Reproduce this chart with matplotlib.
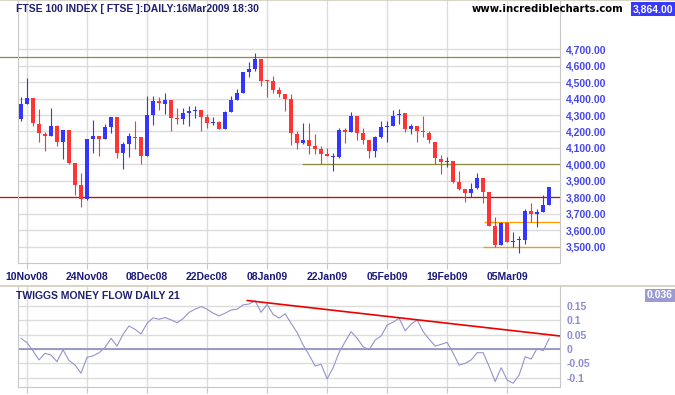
import matplotlib
matplotlib.use("Agg")
import matplotlib.pyplot as plt
from matplotlib.ticker import FixedLocator, FuncFormatter

# daily OHLC, 07Nov08 .. 16Mar09
opens = [4278, 4369, 4403, 4245, 4185, 4175, 4233, 4138, 4209, 4009,
         3876, 3789, 4155, 4173, 4155, 4229, 4288, 4072, 4124, 4169,
         4167, 4053, 4300, 4385, 4369, 4391, 4284, 4278, 4314, 4324,
         4330, 4286, 4253, 4256, 4217, 4320, 4391, 4435, 4561, 4579,
         4640, 4510, 4506, 4452, 4427, 4397, 4185, 4128, 4149, 4112,
         4094, 4064, 4048, 4047, 4209, 4197, 4294, 4193, 4149, 4084,
         4169, 4229, 4235, 4298, 4310, 4217, 4233, 4203, 4191, 4135,
         4033, 4013, 4021, 3892, 3850, 3826, 3856, 3916, 3833, 3627,
         3514, 3646, 3530, 3542, 3544, 3718, 3698, 3714, 3755]
highs = [4411, 4524, 4405, 4336, 4199, 4342, 4239, 4209, 4211, 4011,
         3949, 4155, 4270, 4175, 4245, 4290, 4290, 4138, 4191, 4265,
         4169, 4415, 4417, 4409, 4435, 4393, 4342, 4342, 4356, 4353,
         4332, 4306, 4290, 4262, 4324, 4415, 4459, 4563, 4619, 4674,
         4642, 4512, 4536, 4472, 4429, 4427, 4203, 4252, 4254, 4185,
         4112, 4098, 4068, 4223, 4219, 4318, 4296, 4223, 4151, 4173,
         4264, 4264, 4330, 4336, 4312, 4247, 4235, 4294, 4200, 4137,
         4058, 4044, 4023, 3959, 3852, 3888, 3949, 3918, 3835, 3680,
         3652, 3652, 3591, 3567, 3730, 3769, 3730, 3817, 3866]
lows = [4265, 4365, 4235, 4138, 4084, 4172, 4114, 4033, 4005, 3815,
        3740, 3787, 4072, 4053, 4153, 4193, 4040, 3975, 4045, 4094,
        4005, 4051, 4237, 4330, 4306, 4205, 4245, 4245, 4235, 4280,
        4205, 4223, 4239, 4213, 4215, 4318, 4389, 4433, 4528, 4567,
        4478, 4411, 4435, 4407, 4326, 4118, 4094, 4126, 4064, 4064,
        4003, 4050, 3963, 4041, 4128, 4195, 4149, 4124, 4041, 4047,
        4163, 4138, 4233, 4247, 4199, 4185, 4138, 4169, 4132, 4005,
        3944, 3987, 3886, 3846, 3775, 3803, 3854, 3765, 3627, 3498,
        3512, 3530, 3498, 3466, 3520, 3652, 3623, 3712, 3753]
closes = [4367, 4403, 4250, 4189, 4175, 4233, 4138, 4209, 4009, 3878,
          3789, 4155, 4173, 4155, 4225, 4288, 4072, 4124, 4173, 4162,
          4053, 4300, 4385, 4371, 4391, 4284, 4278, 4310, 4324, 4330,
          4290, 4253, 4259, 4217, 4320, 4391, 4435, 4561, 4579, 4640,
          4508, 4504, 4452, 4427, 4397, 4189, 4128, 4149, 4114, 4094,
          4066, 4053, 4052, 4209, 4197, 4294, 4193, 4149, 4084, 4169,
          4227, 4235, 4294, 4308, 4217, 4233, 4203, 4197, 4149, 4038,
          4013, 4019, 3892, 3852, 3826, 3852, 3916, 3835, 3629, 3512,
          3646, 3532, 3538, 3548, 3718, 3700, 3714, 3755, 3864]

# Twiggs money flow 21
tmf = [0.037, 0.022, -0.007, -0.038, -0.015, -0.021, -0.044, -0.003, -0.040, -0.056,
       -0.084, -0.029, -0.024, -0.013, 0.005, 0.037, 0.010, 0.051, 0.080, 0.068,
       0.052, 0.089, 0.108, 0.103, 0.109, 0.101, 0.091, 0.105, 0.127, 0.138,
       0.147, 0.138, 0.124, 0.115, 0.124, 0.135, 0.138, 0.153, 0.156, 0.167,
       0.127, 0.155, 0.120, 0.107, 0.122, 0.089, 0.057, 0.014, -0.021, -0.059,
       -0.053, -0.104, -0.065, -0.012, 0.025, 0.060, 0.037, 0.008, -0.003, 0.031,
       0.045, 0.083, 0.093, 0.107, 0.063, 0.086, 0.101, 0.060, 0.034, 0.010,
       0.016, 0.023, -0.015, -0.056, -0.050, -0.038, -0.013, -0.013, -0.061, -0.113,
       -0.065, -0.108, -0.119, -0.090, -0.027, -0.035, 0.002, -0.006, 0.036]

tick_idx = [1, 11, 21, 31, 41, 51, 61, 71, 81]
tick_labels = ["10Nov08", "24Nov08", "08Dec08", "22Dec08", "08Jan09",
               "22Jan09", "05Feb09", "19Feb09", "05Mar09"]
price_ticks = list(range(3500, 4701, 100))
tmf_ticks = [-0.1, -0.05, 0, 0.05, 0.1, 0.15]
tmf_tick_labels = ["-0.1", "-0.05", "0", "0.05", "0.1", "0.15"]

# drawn lines: (price, first bar, colour)
levels = [(4650, None, "#8c8c3c"), (3800, None, "#e00000"),
          (4000, 46.8, "#8c8c3c"), (3650, 77.2, "#ff9900"), (3500, 77.0, "#ff9900")]
trend_x = [37.7, 89.8]
trend_y = [0.168, 0.045]

FONT = "Liberation Sans"
BLUE, RED = "#3535ff", "#ff3535"
GRID = "#dcdcdc"
W, H = 675, 395
XMAX = 89.8

fig = plt.figure(figsize=(W / 100, H / 100), dpi=100)


def px_axes(left, top, right, bottom):
    return fig.add_axes([left / W, 1 - bottom / H, (right - left) / W, (bottom - top) / H])


ax = px_axes(18, 0, 560, 263)
ax2 = px_axes(18, 287, 560, 387)

# candles
n = len(closes)
xs = list(range(n))
cols = [BLUE if c >= o else RED for o, c in zip(opens, closes)]
bottoms = [min(o, c) for o, c in zip(opens, closes)]
heights = [max(abs(c - o), 5) for o, c in zip(opens, closes)]
ax.vlines(xs, lows, highs, colors=cols, lw=0.8, zorder=3)
ax.bar(xs, heights, bottom=bottoms, width=0.68, color=cols, lw=0, zorder=4)

ext = -18 / 542
for price, start, col in levels:
    if start is None:
        ax.axhline(price, xmin=ext, xmax=1, color=col, lw=0.9, clip_on=False, zorder=2)
    else:
        ax.hlines(price, start, XMAX, colors=col, lw=0.9, zorder=2)

ax.set_xlim(-0.5, XMAX)
ax.set_ylim(3403, 4997)
ax.xaxis.set_major_locator(FixedLocator(tick_idx))
ax.set_xticklabels(tick_labels)
ax.yaxis.set_major_locator(FixedLocator(price_ticks))
ax.yaxis.set_major_formatter(FuncFormatter(lambda v, p: f"{v:,.2f}"))
ax.yaxis.tick_right()
ax.grid(True, color=GRID, lw=1, zorder=0)
ax.tick_params(axis="y", length=0, pad=4.5, labelcolor="#4646ee", labelsize=7.5)
ax.tick_params(axis="x", length=4, color="#c8c8c8", labelcolor="#1a1a78", labelsize=7.5, pad=2.5)
for lab in ax.get_xticklabels() + ax.get_yticklabels():
    lab.set_fontfamily(FONT)
    lab.set_fontweight("bold")
ax.spines["top"].set_visible(False)
for s in ["left", "bottom", "right"]:
    ax.spines[s].set_color("#c8c8c8")

# money flow panel
ax2.plot(xs, tmf, color="#9494cc", lw=0.8, zorder=3)
ax2.axhline(0, color="#8c8cbc", lw=1.2, zorder=2)
ax2.plot(trend_x, trend_y, color="#ee0000", lw=1.2, zorder=4)
ax2.set_xlim(-0.5, XMAX)
ax2.set_ylim(-0.132, 0.215)
ax2.xaxis.set_major_locator(FixedLocator(tick_idx))
ax2.set_xticklabels([])
ax2.yaxis.set_major_locator(FixedLocator(tmf_ticks))
ax2.set_yticklabels(tmf_tick_labels)
ax2.yaxis.tick_right()
ax2.grid(True, color=GRID, lw=1, zorder=0)
ax2.tick_params(axis="y", length=0, pad=4.5, labelcolor="#8c8cd0", labelsize=7.5)
ax2.tick_params(axis="x", length=4, color="#c8c8c8")
for lab in ax2.get_yticklabels():
    lab.set_fontfamily(FONT)
    lab.set_fontweight("bold")
ax2.spines["top"].set_visible(False)
for s in ["left", "bottom", "right"]:
    ax2.spines[s].set_color("#c8c8c8")

# titles and value boxes
fig.text(16 / W, 1 - 12 / H, "FTSE 100 INDEX [ FTSE ]:DAILY:16Mar2009 18:30",
         fontfamily=FONT, fontweight="bold", fontsize=7.5, color="#20206e", va="baseline")
fig.text(16 / W, 1 - 299 / H, "TWIGGS MONEY FLOW DAILY 21",
         fontfamily=FONT, fontweight="bold", fontsize=7.5, color="#20206e", va="baseline")
fig.text(623 / W, 1 - 12 / H, "www.incrediblecharts.com", ha="right",
         fontfamily="DejaVu Sans", fontweight="bold", fontsize=7.3, color="black", va="baseline")
fig.text(673 / W, 1 - 12 / H, f"{closes[-1]:,.2f}", ha="right", va="baseline",
         fontfamily=FONT, fontweight="bold", fontsize=7.5, color="white",
         bbox=dict(boxstyle="square,pad=0.15", fc="#3838ff", ec="none"))
fig.text(673 / W, 1 - 298.5 / H, f"{tmf[-1]:.3f}", ha="right", va="baseline",
         fontfamily=FONT, fontweight="bold", fontsize=7.5, color="white",
         bbox=dict(boxstyle="square,pad=0.15", fc="#9c9cd0", ec="none"))

# panel separator
fig.add_artist(plt.Rectangle((0, 1 - 287 / H), 1, 2 / H, transform=fig.transFigure,
                             color="#d8d4c8", lw=0))
fig.add_artist(plt.Rectangle((0, 1 - 1 / H), 1, 1 / H, transform=fig.transFigure,
                             color="#d8d4c8", lw=0))

fig.savefig("out.png", dpi=100)
